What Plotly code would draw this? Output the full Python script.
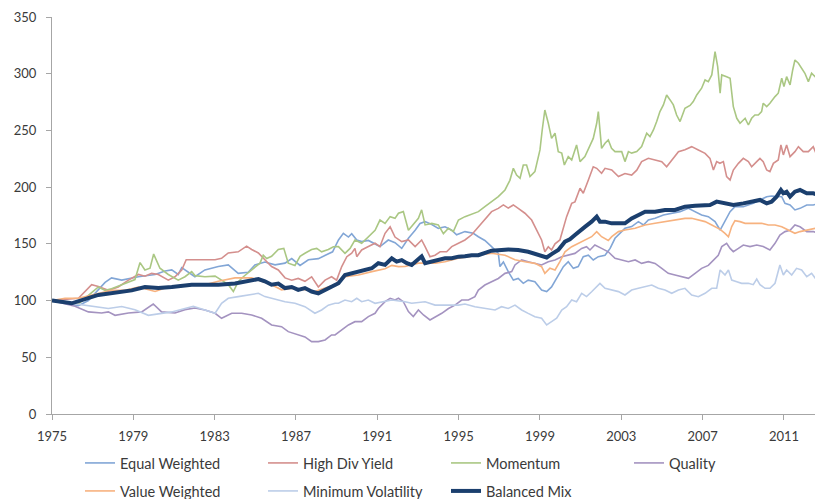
import plotly.graph_objects as go

# Values (decimal years, index level)
ew_x = [1975.0, 1975.97, 1976.3, 1976.79, 1977.28, 1977.61, 1977.93, 1978.43, 1979.25, 1980.07,
        1980.56, 1980.89, 1981.21, 1981.38, 1981.87, 1982.03, 1982.52, 1983.18, 1983.67, 1984.16,
        1984.65, 1984.98, 1985.47, 1985.97, 1986.46, 1986.79, 1987.2, 1987.61, 1988.1, 1988.43,
        1988.8, 1989.09, 1989.33, 1989.58, 1989.74, 1989.99, 1990.23, 1990.56, 1990.81, 1991.13,
        1991.54, 1991.87, 1992.2, 1992.53, 1992.86, 1993.1, 1993.35, 1993.68, 1994.0, 1994.33,
        1994.66, 1994.9, 1995.31, 1995.72, 1995.97, 1996.29, 1996.62, 1996.95, 1997.03, 1997.2,
        1997.44, 1997.69, 1997.93, 1998.18, 1998.42, 1998.75, 1999.08, 1999.33, 1999.57, 1999.9,
        2000.15, 2000.39, 2000.64, 2000.88, 2001.13, 2001.38, 2001.62, 2001.87, 2002.2, 2002.45,
        2002.69, 2003.18, 2003.51, 2003.84, 2004.09, 2004.33, 2004.66, 2005.07, 2005.48, 2005.89,
        2006.3, 2006.63, 2006.95, 2007.28, 2007.61, 2007.86, 2008.1, 2008.35, 2008.59, 2009.0,
        2009.49, 2009.82, 2010.15, 2010.39, 2010.89, 2011.05, 2011.3, 2011.54, 2011.79, 2012.12,
        2012.44, 2012.77, 2012.92]
ew_y = [100, 97, 95.5, 100, 110, 116, 120, 118, 121, 123,
        126, 127, 123, 129, 123, 121, 127, 130, 131.5, 124,
        125, 131.4, 134, 131.5, 133, 137, 131, 136, 137, 140,
        143, 153.4, 159.3, 156, 159, 153.4, 152, 153, 150.5, 147.6,
        153.4, 151, 146, 155, 162, 168, 169.6, 167, 163.7, 165,
        162, 158, 160.8, 159.3, 156.3, 153, 147.5, 141.7, 130, 134,
        125.5, 118.1, 119.5, 115.2, 118, 116.6, 109.3, 108, 112, 122.5,
        129.9, 134.3, 128.4, 130, 138.7, 140, 135.8, 138.7, 140, 146,
        154.9, 163.7, 165.2, 169.6, 166.6, 171, 172.5, 175.5, 177, 178.4,
        181.3, 178.4, 175.5, 174, 169.6, 162.2, 170, 178.4, 182.8, 182.8,
        185.7, 188.7, 191.6, 192.2, 191.6, 185.7, 184.3, 179.9, 181.3, 184.3,
        184.3, 185.7, 185.7]

hdy_x = [1975.0, 1976.3, 1976.95, 1977.28, 1977.77, 1978.26, 1978.76, 1979.25, 1979.57, 1979.9,
         1980.23, 1980.72, 1981.05, 1981.38, 1981.6, 1982.03, 1982.52, 1983.02, 1983.34, 1983.67,
         1984.16, 1984.57, 1984.82, 1985.15, 1985.47, 1985.8, 1986.13, 1986.46, 1986.79, 1987.11,
         1987.44, 1987.77, 1988.1, 1988.43, 1988.75, 1989.0, 1989.25, 1989.5, 1989.74, 1989.9,
         1989.99, 1990.23, 1990.56, 1990.89, 1991.13, 1991.38, 1991.63, 1991.87, 1992.2, 1992.53,
         1992.86, 1993.18, 1993.35, 1993.59, 1993.84, 1994.09, 1994.41, 1994.66, 1994.99, 1995.31,
         1995.64, 1995.97, 1996.29, 1996.62, 1996.95, 1997.2, 1997.44, 1997.69, 1997.93, 1998.26,
         1998.59, 1998.83, 1999.08, 1999.24, 1999.41, 1999.57, 1999.74, 1999.98, 2000.15, 2000.31,
         2000.56, 2000.72, 2000.97, 2001.13, 2001.38, 2001.62, 2001.79, 2002.03, 2002.2, 2002.53,
         2002.86, 2003.18, 2003.51, 2003.76, 2004.0, 2004.33, 2004.66, 2004.99, 2005.23, 2005.48,
         2005.81, 2006.13, 2006.46, 2006.79, 2007.12, 2007.36, 2007.53, 2007.69, 2007.85, 2008.02,
         2008.18, 2008.35, 2008.51, 2008.76, 2009.0, 2009.25, 2009.41, 2009.66, 2009.82, 2009.98,
         2010.15, 2010.31, 2010.48, 2010.72, 2010.85, 2010.97, 2011.13, 2011.3, 2011.54, 2011.71,
         2011.95, 2012.2, 2012.44, 2012.61, 2012.92]
hdy_y = [100, 102, 114, 112.5, 109, 112, 118, 123, 121.5, 124,
         123, 118, 121, 127, 136, 136, 136.5, 136, 137.3, 142,
         143, 148, 145, 142, 136, 130, 127, 120, 118, 119.5,
         117, 121, 112, 118, 121, 118, 130, 138.7, 141.7, 146,
         138.7, 144.6, 147.6, 150.5, 147.6, 159.3, 165, 156, 152, 153.4,
         147.6, 153.4, 147.6, 138.7, 140, 143, 143, 147.6, 150.5, 153.4,
         158, 165, 171, 178.4, 181.3, 184.3, 181.5, 184.3, 181.3, 177,
         171, 162, 153.4, 143, 147.5, 144.6, 150, 153.4, 165, 174,
         185.7, 187, 199, 194.6, 206.3, 218, 216.6, 212.2, 216.6, 215.1,
         209.3, 212, 210.7, 215, 222.5, 225.4, 224, 222.5, 218, 224,
         231.3, 233, 235.7, 232.8, 229.8, 225.4, 215.1, 222.5, 221, 222.5,
         209.3, 206.3, 215.1, 221, 225.4, 222.5, 218, 222.5, 225.4, 222.5,
         215.1, 213.7, 221, 224, 237.2, 228.4, 237.2, 226.9, 231.3, 235.7,
         231.3, 231.3, 235.7, 228.4, 226.9]

mom_x = [1975.0, 1975.64, 1976.3, 1977.28, 1977.61, 1977.93, 1978.43, 1979.08, 1979.33, 1979.57,
         1979.82, 1980.0, 1980.31, 1980.72, 1981.21, 1981.54, 1981.87, 1982.03, 1982.52, 1983.02,
         1983.34, 1983.67, 1983.92, 1984.16, 1984.41, 1984.82, 1985.23, 1985.39, 1985.56, 1985.8,
         1986.13, 1986.4, 1986.62, 1986.95, 1987.2, 1987.44, 1987.77, 1988.02, 1988.26, 1988.59,
         1988.84, 1989.09, 1989.41, 1989.66, 1989.9, 1990.23, 1990.56, 1990.89, 1991.13, 1991.38,
         1991.63, 1991.87, 1992.04, 1992.28, 1992.53, 1992.77, 1993.02, 1993.18, 1993.35, 1993.68,
         1994.0, 1994.25, 1994.5, 1994.74, 1994.99, 1995.31, 1995.64, 1995.97, 1996.29, 1996.62,
         1996.95, 1997.28, 1997.52, 1997.69, 1997.85, 1998.02, 1998.18, 1998.34, 1998.51, 1998.75,
         1999.0, 1999.11, 1999.24, 1999.41, 1999.57, 1999.74, 1999.9, 2000.07, 2000.2, 2000.39,
         2000.56, 2000.8, 2000.97, 2001.21, 2001.46, 2001.62, 2001.79, 2001.87, 2002.03, 2002.2,
         2002.36, 2002.52, 2002.69, 2003.02, 2003.18, 2003.35, 2003.51, 2003.76, 2004.0, 2004.25,
         2004.41, 2004.58, 2004.74, 2004.9, 2005.07, 2005.23, 2005.4, 2005.56, 2005.72, 2005.89,
         2006.13, 2006.38, 2006.54, 2006.71, 2006.95, 2007.12, 2007.28, 2007.45, 2007.61, 2007.74,
         2007.86, 2007.94, 2008.18, 2008.35, 2008.51, 2008.68, 2008.84, 2009.09, 2009.25, 2009.41,
         2009.57, 2009.74, 2009.9, 2009.98, 2010.15, 2010.31, 2010.56, 2010.72, 2010.89, 2011.0,
         2011.13, 2011.3, 2011.43, 2011.54, 2011.71, 2011.87, 2012.03, 2012.2, 2012.36, 2012.53,
         2012.69, 2012.85, 2012.92]
mom_y = [100, 99, 97, 112, 109, 110.5, 114, 118.5, 133.5, 127,
         128.5, 141, 128.5, 123, 118, 121, 125.6, 122, 121, 121.5,
         118, 114, 108, 116.7, 121, 127, 133, 140, 137, 139,
         145, 146, 133, 131, 139, 141.7, 145, 146, 143, 145,
         147.5, 147.6, 141.7, 146, 153.4, 150.5, 156, 162, 171, 168,
         174, 172.5, 177, 178.4, 162, 166.7, 172.5, 180, 166.7, 168,
         166.7, 159, 163.7, 160.8, 171, 174, 176, 178.4, 182.8, 187,
         191.6, 197.5, 206, 216.6, 210.7, 207.8, 219.5, 219.5, 209.3, 213.7,
         232.8, 250.4, 268, 256.3, 243, 247.5, 231.3, 230, 219.5, 226.9,
         224, 237.2, 222.5, 226.9, 237.2, 243, 256.3, 266.6, 234.2, 238.7,
         241.6, 234.2, 231.3, 231.3, 222.5, 231.3, 230, 231.3, 235.7, 247.5,
         244.6, 250.4, 257.8, 266.6, 272.5, 281.3, 276.9, 272.5, 263.6, 257.8,
         269.5, 272, 275.4, 281.3, 287.2, 294.5, 293, 298.9, 319.5, 306.3,
         282.8, 298.9, 297.4, 296, 271, 260.7, 256.3, 260.7, 254.8, 260.7,
         263.6, 263.6, 266.6, 274, 271, 274, 279.8, 282.8, 296, 288.6,
         297.4, 290.1, 303.3, 312.1, 309.2, 304.8, 300.4, 293, 300.4, 297.4,
         303.3, 297.4, 299]

qual_x = [1975.0, 1976.13, 1976.79, 1977.44, 1977.77, 1978.1, 1978.76, 1979.41, 1979.98, 1980.39,
          1981.05, 1981.54, 1982.03, 1982.52, 1983.02, 1983.34, 1983.84, 1984.33, 1984.82, 1985.31,
          1985.8, 1986.29, 1986.62, 1986.95, 1987.44, 1987.77, 1988.1, 1988.43, 1988.75, 1988.92,
          1989.25, 1989.58, 1989.9, 1990.23, 1990.56, 1990.89, 1991.05, 1991.38, 1991.63, 1991.87,
          1992.04, 1992.28, 1992.53, 1992.77, 1993.02, 1993.27, 1993.59, 1993.92, 1994.17, 1994.5,
          1994.82, 1995.15, 1995.48, 1995.8, 1995.97, 1996.29, 1996.62, 1996.95, 1997.28, 1997.61,
          1997.77, 1998.1, 1998.42, 1998.75, 1999.08, 1999.41, 1999.74, 2000.07, 2000.39, 2000.72,
          2001.05, 2001.29, 2001.46, 2001.7, 2002.03, 2002.36, 2002.69, 2003.02, 2003.35, 2003.68,
          2004.0, 2004.33, 2004.66, 2004.99, 2005.31, 2005.64, 2005.97, 2006.3, 2006.63, 2006.95,
          2007.28, 2007.53, 2007.77, 2007.94, 2008.18, 2008.35, 2008.51, 2008.76, 2009.0, 2009.33,
          2009.66, 2009.98, 2010.31, 2010.56, 2010.8, 2011.05, 2011.3, 2011.54, 2011.79, 2012.12,
          2012.44, 2012.69, 2012.92]
qual_y = [100, 95, 90, 89, 90, 87, 89, 90, 97, 90,
          89, 92, 93.5, 91.7, 88.8, 84.4, 88.8, 88.8, 87.3, 84.4,
          78.5, 77, 72.6, 71, 68, 63.8, 63.8, 65.3, 69.7, 69.7,
          74, 78.5, 81.4, 81.4, 85.9, 88.8, 93, 99, 102, 100.5,
          102, 99, 90.3, 85.9, 91.7, 87.3, 82.9, 85.9, 88.8, 93,
          96, 100.5, 100.5, 103.5, 109.3, 113.7, 116.6, 119.5, 124, 125.5,
          131.4, 135.8, 134.3, 132.8, 131.4, 134.3, 135.8, 138.7, 140.2, 141.6,
          146, 147.5, 144.6, 149, 146, 143, 137.2, 135.8, 134.3, 135.8,
          132.8, 134.3, 132.8, 128.4, 124, 122.5, 121, 119.6, 124, 128.4,
          131, 135.8, 140, 147.6, 150.5, 146, 143.1, 146, 149, 147.6,
          149, 147.6, 144.6, 150.5, 157.8, 160.8, 162, 166.6, 165, 160.8,
          160.8, 159.3, 157.8]

vw_x = [1975.0, 1975.64, 1976.3, 1976.95, 1977.93, 1978.59, 1979.25, 1980.07, 1980.56, 1981.21,
        1981.87, 1982.52, 1983.18, 1984.0, 1984.82, 1985.31, 1985.8, 1986.29, 1986.79, 1987.44,
        1987.93, 1988.43, 1988.92, 1989.41, 1990.07, 1990.73, 1991.38, 1991.71, 1992.04, 1992.36,
        1992.69, 1993.02, 1993.84, 1994.33, 1994.99, 1995.64, 1996.62, 1997.28, 1997.77, 1998.26,
        1998.75, 1999.08, 1999.24, 1999.49, 1999.74, 1999.98, 2000.23, 2000.56, 2000.88, 2001.21,
        2001.54, 2001.79, 2002.03, 2002.36, 2002.53, 2002.86, 2003.18, 2003.68, 2004.17, 2004.66,
        2005.15, 2005.64, 2006.13, 2006.46, 2006.79, 2007.12, 2007.45, 2007.86, 2008.1, 2008.27,
        2008.43, 2008.59, 2008.84, 2009.09, 2009.41, 2009.9, 2010.23, 2010.56, 2010.89, 2011.21,
        2011.54, 2011.79, 2012.12, 2012.53, 2012.92]
vw_y = [100, 102, 102, 105, 109, 109, 112, 108, 111, 112,
        114, 114, 117, 120, 120, 117, 114, 109.5, 111, 109.5,
        108, 111, 114, 121, 122.6, 125.5, 128, 131, 129.9, 130,
        131.4, 133, 133, 134.3, 137.3, 139.3, 141.7, 140, 136, 134.3,
        132.8, 129.9, 124, 128.5, 127, 134.3, 143, 147.5, 150.5, 153.4,
        156.3, 160.8, 156.3, 153, 156.3, 160.8, 162.2, 163.7, 166.6, 168.1,
        169.6, 171, 172.5, 172.5, 171, 169.6, 166.6, 162.8, 159.3, 156.3,
        165.2, 170.5, 169.6, 168.1, 168.1, 168.1, 166.6, 166.6, 165, 162.2,
        159.3, 160.8, 162.2, 163.7, 163.7]

mv_x = [1975.0, 1975.97, 1977.12, 1977.77, 1978.43, 1979.08, 1979.74, 1980.23, 1980.89, 1981.54,
        1981.95, 1982.52, 1983.02, 1983.34, 1983.67, 1984.16, 1984.82, 1985.15, 1985.47, 1985.8,
        1986.46, 1986.95, 1987.44, 1987.93, 1988.26, 1988.59, 1988.92, 1989.09, 1989.41, 1989.74,
        1989.99, 1990.23, 1990.56, 1990.89, 1991.3, 1991.71, 1992.36, 1992.69, 1993.35, 1993.84,
        1994.99, 1995.31, 1995.8, 1996.29, 1996.79, 1997.11, 1997.44, 1997.77, 1998.1, 1998.42,
        1998.75, 1999.08, 1999.33, 1999.57, 1999.82, 2000.07, 2000.31, 2000.56, 2000.8, 2001.05,
        2001.29, 2001.54, 2001.79, 2001.95, 2002.2, 2002.52, 2002.86, 2003.18, 2003.51, 2003.84,
        2004.17, 2004.5, 2004.82, 2005.15, 2005.48, 2005.81, 2006.13, 2006.46, 2006.79, 2007.12,
        2007.45, 2007.69, 2007.86, 2008.1, 2008.27, 2008.43, 2008.68, 2008.92, 2009.25, 2009.49,
        2009.66, 2009.82, 2010.07, 2010.31, 2010.56, 2010.8, 2010.97, 2011.13, 2011.38, 2011.62,
        2011.87, 2012.12, 2012.36, 2012.61, 2012.92]
mv_y = [100, 97.6, 94.7, 93, 94.7, 92, 87, 88.5, 90, 93,
        95, 91.7, 88.8, 97.6, 102, 103.5, 105, 106.4, 103.5, 102,
        99, 97.6, 94.6, 88.8, 91.7, 96, 97.6, 97.6, 100.5, 99,
        102, 99, 100.5, 97.6, 99, 100.5, 99, 97.6, 99, 96,
        96, 97, 94.6, 93, 91.7, 94.6, 93, 96, 91.7, 88.7,
        85.8, 84.4, 78.5, 81.4, 84.4, 91.7, 94.6, 100.5, 99, 106.4,
        103.5, 107.8, 112.3, 115.2, 110.8, 109.3, 107.9, 104.9, 109.3, 110.8,
        112.3, 113.7, 110.8, 109.3, 106.4, 109.3, 110.8, 104.9, 103.4, 106.4,
        110.8, 110.8, 127, 122.5, 127, 118.1, 116.6, 115.2, 115.2, 114,
        119, 114, 110.8, 110.8, 115.2, 131.4, 122.5, 127, 122.5, 128.4,
        127, 121, 124, 118.1, 116.6]

bal_x = [1975.0, 1975.97, 1977.28, 1977.93, 1978.92, 1979.57, 1980.23, 1980.89, 1981.87, 1982.36,
         1983.18, 1984.0, 1984.82, 1985.15, 1985.47, 1985.8, 1986.13, 1986.46, 1986.79, 1987.11,
         1987.44, 1987.77, 1988.1, 1988.43, 1988.75, 1989.09, 1989.41, 1989.74, 1990.07, 1990.4,
         1990.73, 1991.05, 1991.38, 1991.71, 1991.95, 1992.2, 1992.45, 1992.69, 1993.02, 1993.18,
         1993.35, 1993.68, 1994.0, 1994.33, 1994.66, 1994.99, 1995.31, 1995.64, 1995.97, 1996.62,
         1997.44, 1997.93, 1998.42, 1998.92, 1999.33, 1999.57, 1999.9, 2000.23, 2000.47, 2000.72,
         2000.97, 2001.21, 2001.54, 2001.79, 2001.95, 2002.2, 2002.52, 2003.18, 2003.51, 2003.84,
         2004.17, 2004.66, 2005.15, 2005.64, 2006.13, 2006.63, 2007.36, 2007.69, 2008.02, 2008.51,
         2009.0, 2009.49, 2009.82, 2010.15, 2010.39, 2010.64, 2010.85, 2010.97, 2011.13, 2011.3,
         2011.54, 2011.79, 2012.12, 2012.44, 2012.69, 2012.92]
bal_y = [100, 97.6, 105, 106.5, 109, 112, 111, 112, 114, 114,
         114, 115, 118, 119, 117, 114, 115, 111, 112, 109.4,
         111, 108, 106.4, 109.7, 112.3, 115.3, 122.6, 124, 125.5, 127,
         128.5, 132.9, 131.5, 137.3, 134.3, 135.7, 132.9, 131.4, 137.3, 139,
         132.9, 134.3, 135.8, 137.3, 137.3, 138.7, 139, 140, 140, 144,
         145, 144.6, 143, 140, 138, 141, 144.6, 151.9, 154, 157.8,
         162, 165, 169.6, 174, 169.6, 169.6, 168.1, 168.1, 172.5, 175.5,
         178.4, 178.4, 179.9, 179.9, 182.8, 183.5, 184.3, 187.2, 185.7, 184.3,
         185.7, 187.2, 188.7, 185.7, 187.2, 191.6, 197.5, 194.6, 196, 191.6,
         196, 197.5, 194.6, 194.6, 193.1, 193.1]

series_names = ["Equal Weighted", "High Div Yield", "Momentum", "Quality",
                "Value Weighted", "Minimum Volatility", "Balanced Mix"]
series_x = [ew_x, hdy_x, mom_x, qual_x, vw_x, mv_x, bal_x]
series_y = [ew_y, hdy_y, mom_y, qual_y, vw_y, mv_y, bal_y]
colors = ["#82a6d6", "#d48f8d", "#aac783", "#a493c0", "#f7b27f", "#bccde8", "#1b3f6e"]
widths = [1.6, 1.6, 1.6, 1.6, 1.6, 1.6, 4]
legend_ids = ["legend", "legend", "legend", "legend", "legend2", "legend2", "legend2"]

x_ticks = [1975, 1979, 1983, 1987, 1991, 1995, 1999, 2003, 2007, 2011]

_TEXT = "#3a3a3a"
_AXIS = "#a6a6a6"
_FONT = "Lato, Liberation Sans, Arial, sans-serif"

# the page body adds an 8px margin, so the figure is 8px smaller and margins shifted
FIG_W, FIG_H = 815, 491

fig = go.Figure()
for name, xs, ys, c, w, lg in zip(series_names, series_x, series_y, colors, widths, legend_ids):
    fig.add_trace(go.Scatter(
        x=xs, y=ys, mode="lines", name=name,
        line=dict(color=c, width=w),
        legend=lg,
    ))

_leg = dict(
    orientation="h", xref="container", yref="container",
    xanchor="left", yanchor="middle",
    entrywidth=138, entrywidthmode="pixels",
    font=dict(size=14.5, color=_TEXT, family=_FONT),
    bgcolor="rgba(0,0,0,0)", borderwidth=0,
    traceorder="normal",
)

fig.update_layout(
    width=FIG_W, height=FIG_H,
    template="none",
    paper_bgcolor="#ffffff",
    plot_bgcolor="#ffffff",
    font=dict(family=_FONT, size=13, color=_TEXT),
    margin=dict(l=44, r=0, t=9, b=85),
    showlegend=True,
    legend=dict(x=72 / FIG_W, y=1 - 455 / FIG_H, **_leg),
    legend2=dict(x=72 / FIG_W, y=1 - 483 / FIG_H, **_leg),
    xaxis=dict(
        range=[1975, 2012.92], tickvals=x_ticks,
        ticktext=[str(t) for t in x_ticks],
        showgrid=False, zeroline=False,
        showline=True, linecolor=_AXIS, linewidth=1,
        ticks="outside", ticklen=5, tickcolor=_AXIS,
        ticklabelstandoff=5,
        tickfont=dict(size=13, color=_TEXT),
    ),
    yaxis=dict(
        range=[0, 350], dtick=50, tick0=0,
        showgrid=False, zeroline=False,
        showline=True, linecolor=_AXIS, linewidth=1,
        ticks="outside", ticklen=5, tickcolor=_AXIS,
        ticklabelstandoff=7,
        tickfont=dict(size=13, color=_TEXT),
    ),
)

fig.write_html("out.html")
